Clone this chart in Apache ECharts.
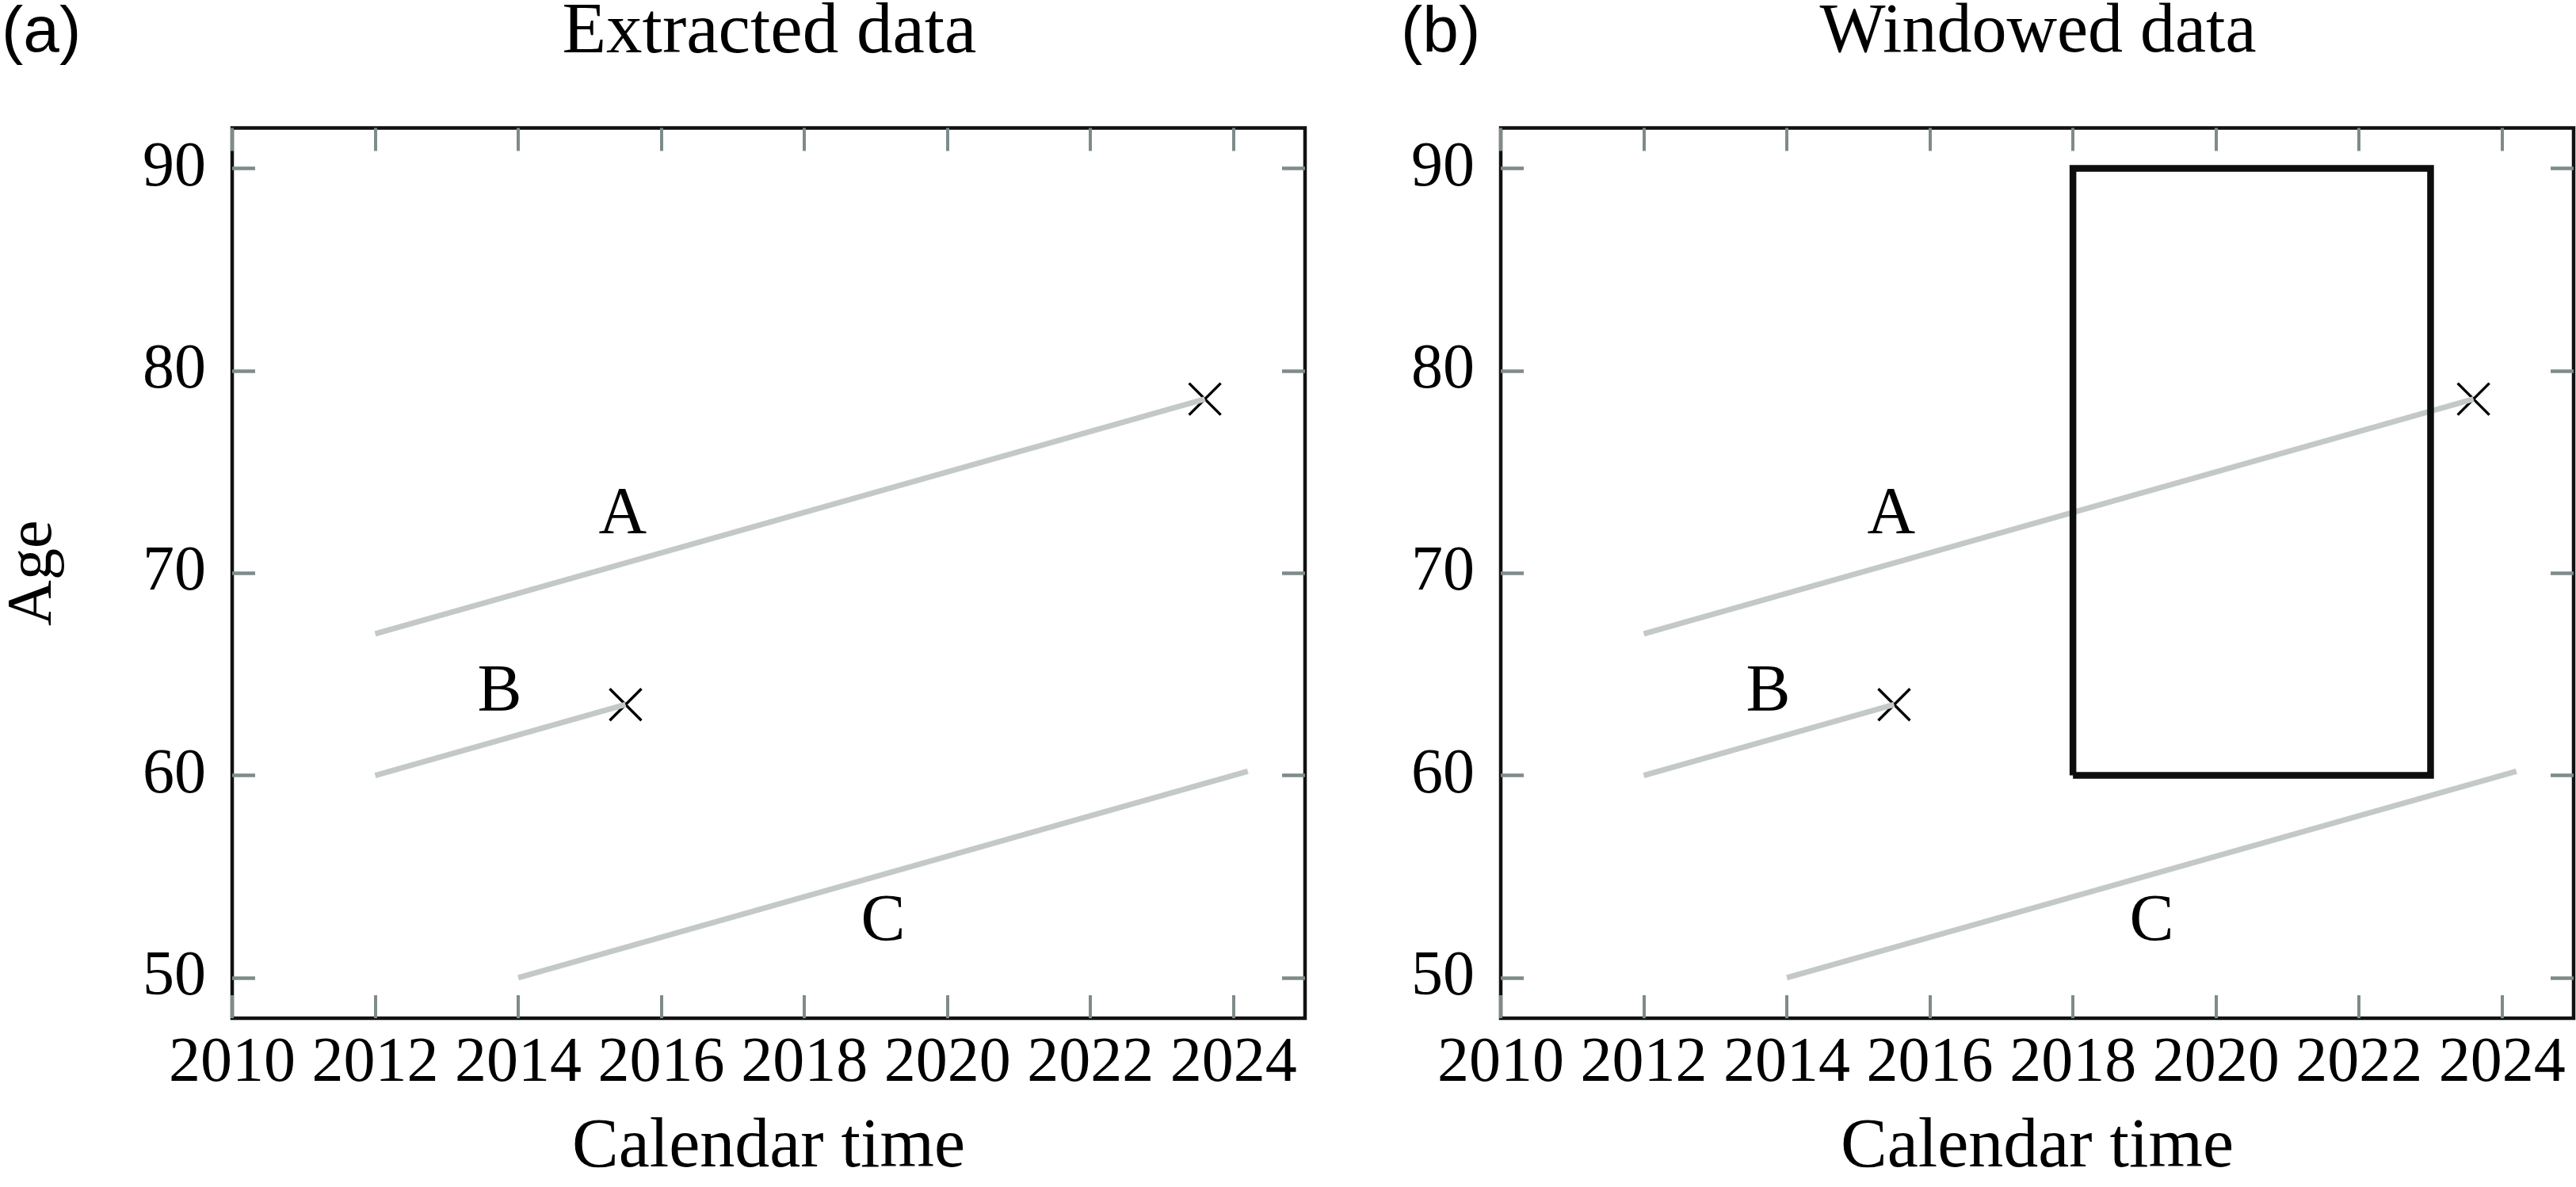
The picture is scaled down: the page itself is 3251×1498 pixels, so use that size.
<!DOCTYPE html>
<html>
<head>
<meta charset="utf-8">
<script src="https://cdn.jsdelivr.net/npm/echarts@6/dist/echarts.min.js"></script>
<style>
  html, body { margin: 0; padding: 0; background: #fff; }
  #chart { width: 3251px; height: 1498px; }
</style>
</head>
<body>
<div id="chart"></div>
<script>
// data
const yearTicks = [2010, 2012, 2014, 2016, 2018, 2020, 2022, 2024];
const ageTicks = [50, 60, 70, 80, 90];
const trajA = [[2012, 67], [2023.6, 78.6]];
const trajB = [[2012, 60], [2015.5, 63.5]];
const trajC = [[2014, 50], [2024.2, 60.2]];
// x marks = end of follow-up for A and B
const exits = [[2023.6, 78.6], [2015.5, 63.5]];
const letters = [[2015.46, 72.82, 'A'], [2013.74, 64.07, 'B'], [2019.1, 52.7, 'C']];
// window: 2018-2023, ages 60-90
const windowBox = [[2018, 60], [2018, 90], [2023, 90], [2023, 60], [2018, 60]];
const panelTitles = ['Extracted data', 'Windowed data'];
const panelTags = ['(a)', '(b)'];

const serif = 'Liberation Serif';
const ink = '#000';
const tickGrey = '#7f8b8b';
const trajGrey = '#c3c9c6';

var chart = echarts.init(document.getElementById('chart'));

// grid boxes, px
const grids = [
    { left: 293, top: 161.5, width: 1354, height: 1124 },
    { left: 1894, top: 161.5, width: 1354, height: 1124 }
];

function xAxisFor(gi, pos) {
    return {
        type: 'value', gridIndex: gi, position: pos,
        min: 2010, max: 2025,
        name: pos === 'bottom' ? 'Calendar time' : '',
        nameLocation: 'middle', nameGap: 164,
        nameTextStyle: { fontFamily: serif, fontSize: 88, color: ink, verticalAlign: 'middle' },
        axisLine: { show: false, onZero: false },
        splitLine: { show: false },
        axisTick: { show: true, inside: true, length: 29, customValues: yearTicks,
                    lineStyle: { color: tickGrey, width: 4 } },
        axisLabel: { show: pos === 'bottom', customValues: yearTicks, margin: 58,
                     verticalAlign: 'middle',
                     formatter: function (v) { return String(v); },
                     fontFamily: serif, fontSize: 80, color: ink }
    };
}

function yAxisFor(gi, pos) {
    return {
        type: 'value', gridIndex: gi, position: pos,
        min: 48, max: 92,
        name: (pos === 'left' && gi === 0) ? 'Age' : '',
        nameLocation: 'middle', nameGap: 250,
        nameTextStyle: { fontFamily: serif, fontSize: 80, color: ink, verticalAlign: 'middle' },
        axisLine: { show: false, onZero: false },
        splitLine: { show: false },
        axisTick: { show: true, inside: true, length: 29, customValues: ageTicks,
                    lineStyle: { color: tickGrey, width: 4.5 } },
        axisLabel: { show: pos === 'left', customValues: ageTicks, margin: 33,
                     formatter: function (v) { return String(v); },
                     fontFamily: serif, fontSize: 80, color: ink }
    };
}

var xAxes = [], yAxes = [], series = [];
grids.forEach(function (g, gi) {
    xAxes.push(xAxisFor(gi, 'bottom'), xAxisFor(gi, 'top'));
    yAxes.push(yAxisFor(gi, 'left'), yAxisFor(gi, 'right'));
    var xi = gi * 2, yi = gi * 2;

    [trajA, trajB, trajC].forEach(function (d, k) {
        series.push({
            name: 'ABC'[k], type: 'line', xAxisIndex: xi, yAxisIndex: yi,
            data: d, symbol: 'none', silent: true,
            lineStyle: { color: trajGrey, width: 7, cap: 'butt', opacity: 1 }
        });
    });

    series.push({
        type: 'scatter', xAxisIndex: xi, yAxisIndex: yi, data: exits,
        symbol: 'path://M0,0L1,1M1,0L0,1', symbolSize: 40, silent: true,
        itemStyle: { color: 'rgba(0,0,0,0)', borderColor: ink, borderWidth: 3.4, opacity: 1 }
    });

    series.push({
        type: 'scatter', xAxisIndex: xi, yAxisIndex: yi, data: letters,
        symbolSize: 1, silent: true,
        itemStyle: { color: 'rgba(0,0,0,0)', opacity: 1 },
        label: { show: true, position: 'inside', formatter: function (p) { return p.value[2]; },
                 fontFamily: serif, fontSize: 84, color: ink, opacity: 1,
                 textBorderWidth: 0 }
    });

    if (gi === 1) {
        series.push({
            type: 'line', xAxisIndex: xi, yAxisIndex: yi, data: windowBox,
            symbol: 'none', silent: true,
            lineStyle: { color: '#0d0d0d', width: 8.5, join: 'miter', cap: 'butt' }
        });
    }
});

var option = {
    backgroundColor: '#fff',
    animation: false,
    grid: grids.map(function (g) {
        return Object.assign({ show: true, borderColor: '#111', borderWidth: 4.5,
                               backgroundColor: 'transparent' }, g);
    }),
    xAxis: xAxes,
    yAxis: yAxes,
    series: series,
    graphic: [
        { type: 'text', x: 2, y: 42,
          style: { text: panelTags[0], fontFamily: 'Liberation Sans', fontSize: 82, fill: ink,
                   align: 'left', textAlign: 'left', verticalAlign: 'middle', textVerticalAlign: 'middle' } },
        { type: 'text', x: 1768, y: 42,
          style: { text: panelTags[1], fontFamily: 'Liberation Sans', fontSize: 82, fill: ink,
                   align: 'left', textAlign: 'left', verticalAlign: 'middle', textVerticalAlign: 'middle' } },
        { type: 'text', x: 971, y: 42,
          style: { text: panelTitles[0], fontFamily: serif, fontSize: 91, fill: ink,
                   align: 'center', textAlign: 'center', verticalAlign: 'middle', textVerticalAlign: 'middle' } },
        { type: 'text', x: 2572, y: 42,
          style: { text: panelTitles[1], fontFamily: serif, fontSize: 88, fill: ink,
                   align: 'center', textAlign: 'center', verticalAlign: 'middle', textVerticalAlign: 'middle' } }
    ]
};

chart.setOption(option);
</script>
</body>
</html>
